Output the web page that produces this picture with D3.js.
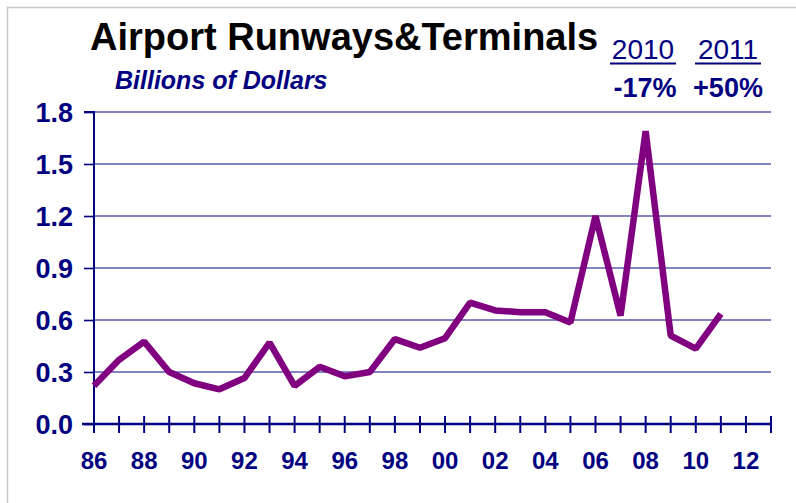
<!DOCTYPE html>
<html>
<head>
<meta charset="utf-8">
<script src="https://cdn.jsdelivr.net/npm/d3@7"></script>
<style>
  html, body { margin: 0; padding: 0; background: #ffffff; }
  svg { display: block; }
  text { font-family: "Liberation Sans", Arial, Helvetica, sans-serif; }
</style>
</head>
<body>
<svg id="chart" width="796" height="503"></svg>
<script>
// ---- data ----
const years = [1986,1987,1988,1989,1990,1991,1992,1993,1994,1995,1996,1997,1998,1999,2000,2001,2002,2003,2004,2005,2006,2007,2008,2009,2010,2011];
const values = [0.22,0.37,0.475,0.30,0.235,0.20,0.265,0.47,0.22,0.33,0.275,0.30,0.49,0.44,0.495,0.70,0.655,0.645,0.645,0.585,1.20,0.625,1.69,0.51,0.435,0.635];
const yTicks = [0, 0.3, 0.6, 0.9, 1.2, 1.5, 1.8];
const xTickYears = d3.range(1986, 2014);
const xLabelYears = [1986,1988,1990,1992,1994,1996,1998,2000,2002,2004,2006,2008,2010,2012];
const xLabels = ["86","88","90","92","94","96","98","00","02","04","06","08","10","12"];
const title = "Airport Runways&Terminals";
const subtitle = "Billions of Dollars";
const changeYears = ["2010", "2011"];
const changePcts = ["-17%", "+50%"];

// ---- layout ----
const navy = "#000080";
const svg = d3.select("#chart");
const x = d3.scaleLinear().domain([1986, 2013]).range([94, 771]);
const y = d3.scaleLinear().domain([0, 1.8]).range([424, 112]);

// frame (top & left visible)
svg.append("path")
  .attr("d", "M7.5,503 L7.5,7.5 L796,7.5")
  .attr("fill", "none").attr("stroke", "#c8c8c8").attr("stroke-width", 1.5);

// gridlines
svg.append("g").selectAll("line").data(yTicks.filter(d => d > 0)).join("line")
  .attr("x1", x(1986)).attr("x2", x(2013))
  .attr("y1", d => y(d)).attr("y2", d => y(d))
  .attr("stroke", "#5a5aaa").attr("stroke-width", 1.6);

// y axis
const yAxis = d3.axisLeft(y).tickValues(yTicks).tickFormat(d3.format(".1f")).tickSize(10).tickPadding(11);
const gy = svg.append("g").attr("transform", `translate(${x(1986)},0)`).call(yAxis);
gy.select(".domain").attr("stroke", navy).attr("stroke-width", 2).attr("d", `M-10,${y(1.8)}H0V${y(0)}`);
gy.selectAll(".tick line").attr("stroke", navy).attr("stroke-width", 1.6);
gy.selectAll(".tick text")
  .attr("fill", navy).attr("font-size", 27).attr("font-weight", "bold")
  .attr("font-family", "'Liberation Sans', Arial, sans-serif").attr("dy", "0.35em");

// x axis
const gx = svg.append("g");
gx.append("line")
  .attr("x1", x(1986) - 12).attr("x2", x(2013))
  .attr("y1", y(0)).attr("y2", y(0))
  .attr("stroke", navy).attr("stroke-width", 2.5);
gx.selectAll("line.tk").data(xTickYears).join("line").attr("class", "tk")
  .attr("x1", d => x(d)).attr("x2", d => x(d))
  .attr("y1", y(0) - 8).attr("y2", y(0) + 9)
  .attr("stroke", navy).attr("stroke-width", 2);
gx.selectAll("text").data(xLabelYears).join("text")
  .attr("x", d => x(d)).attr("y", 469)
  .attr("text-anchor", "middle")
  .attr("fill", navy).attr("font-size", 24).attr("font-weight", "bold")
  .text((d, i) => xLabels[i]);

// line
const line = d3.line().x((d, i) => x(years[i])).y(d => y(d));
svg.append("path").datum(values)
  .attr("d", line)
  .attr("fill", "none").attr("stroke", "#800080")
  .attr("stroke-width", 6.5).attr("stroke-linejoin", "bevel");

// titles
svg.append("text").attr("x", 90).attr("y", 50)
  .attr("font-size", 38).attr("font-weight", "bold").attr("fill", "#000000")
  .text(title);
svg.append("text").attr("x", 115).attr("y", 89)
  .attr("font-size", 25).attr("font-weight", "bold").attr("font-style", "italic").attr("fill", navy)
  .text(subtitle);

// change annotations
const annX = [643, 728];
changeYears.forEach((t, i) => {
  svg.append("text").attr("x", annX[i]).attr("y", 59)
    .attr("text-anchor", "middle").attr("font-size", 28).attr("fill", navy).text(t);
  svg.append("line").attr("x1", annX[i] - 33).attr("x2", annX[i] + 33)
    .attr("y1", 63.5).attr("y2", 63.5).attr("stroke", navy).attr("stroke-width", 2);
  svg.append("text").attr("x", annX[i] + (i === 0 ? 2 : 0)).attr("y", 97)
    .attr("text-anchor", "middle").attr("font-size", 27).attr("font-weight", "bold").attr("fill", navy).text(changePcts[i]);
});
</script>
</body>
</html>
